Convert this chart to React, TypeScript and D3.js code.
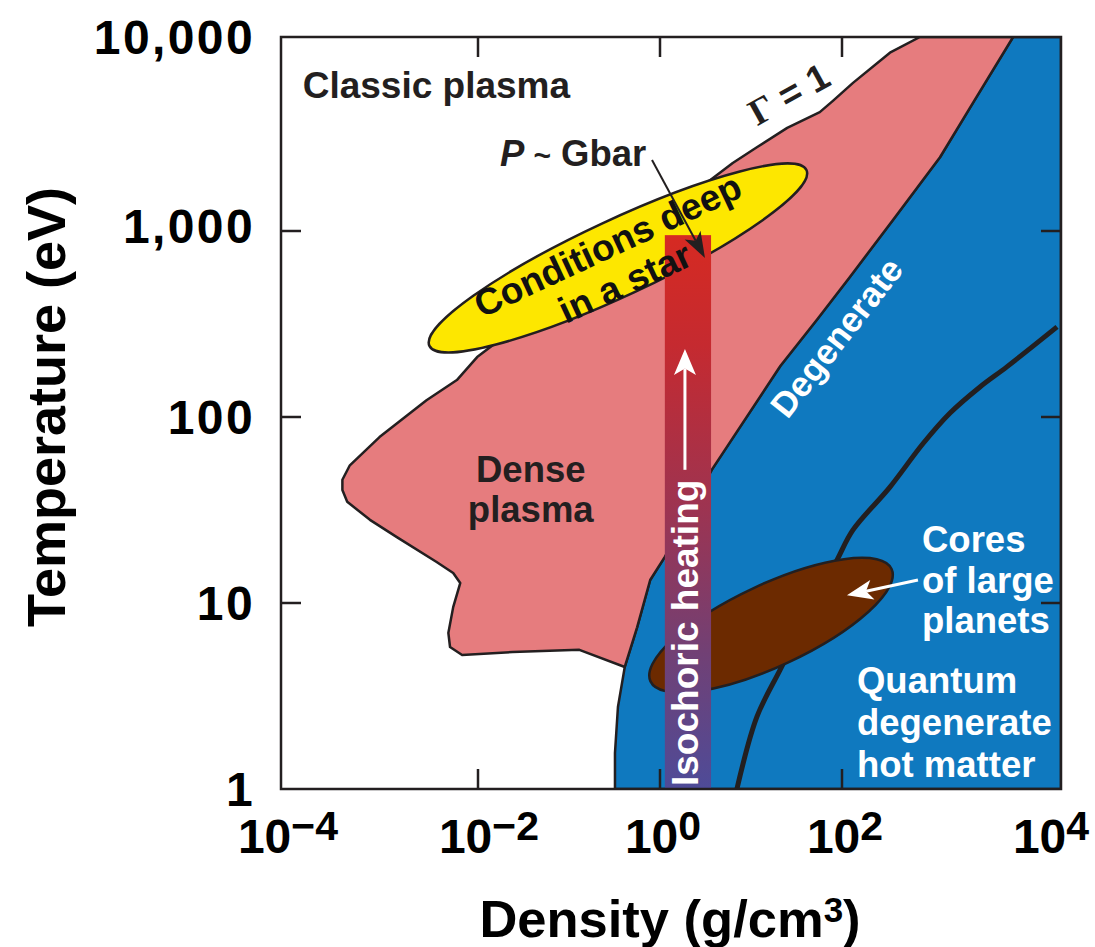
import React from 'react';
import * as d3 from 'd3';

// ---------- axes ----------
const densityTicks = [1e-4, 1e-2, 1, 1e2, 1e4];
const densityTickExp = ['\u22124', '\u22122', '0', '2', '4'];
const tempTicks = [1, 10, 100, 1000, 10000];
const tempTickLabels = ['1', '10', '100', '1,000', '10,000'];
const innerTicksX = [1e-2, 1, 1e2];
const innerTicksY = [10, 100, 1000];

// ---------- regions: [density g/cm3, temperature eV] ----------
const gammaLine = [
  [515, 10000], [274, 8300], [126, 5800], [80, 4700], [57, 4100],
  [25, 3400], [11.6, 2700], [6.3, 2240],
];
const densePlasmaLeft = [
  [0.0098, 210], [0.0061, 158], [0.003, 123], [0.001, 78], [0.0005, 55],
  [0.00042, 46], [0.00042, 40.5], [0.00047, 35], [0.0008, 28], [0.0015, 22.6],
  [0.0038, 16.6], [0.0056, 14.5], [0.0066, 12.8], [0.0056, 9.5], [0.005, 6.9],
  [0.0052, 5.8], [0.0069, 5.25], [0.024, 5.45], [0.13, 5.6],
];
const degenerateBoundary = [
  [0.32, 1], [0.32, 1.56], [0.345, 2.76], [0.41, 4.53], [0.56, 7.4],
  [0.78, 13.3], [1.13, 17.7], [3.7, 52], [21, 188], [53, 333],
  [118, 566], [292, 1140], [785, 2400], [1570, 4570], [3650, 10000],
];
const quantumLine = [
  [7.0, 1], [11.6, 2.44], [20.8, 4.36], [44, 8.9], [88, 17], [126, 24.7],
  [274, 42], [550, 72], [970, 105], [1820, 145], [3200, 186], [9200, 305],
];
const starCenter = [0.345, 716];
const planetCenter = [16.6, 7.6];
const isochoricDensity = [1.13, 3.64];
const isochoricTemp = [1, 950];
const isochoricArrowTemp = [52, 232];
const gbarArrow = [[0.817, 2320], [3.12, 716]];
const coresArrow = [[494, 13.3], [111, 11.0]];

// ---------- annotation anchors ----------
const classicPlasmaAt = [1.66e-4, 4850];
const pGbarAt = [0.0175, 2160];
const gammaLabelAt = [30.5, 4450];
const densePlasmaAt = [0.038, 45];
const degenerateAt = [109, 244];
const coresAt = [538, 18.8];
const quantumAt = [137, 3.28];

const FONT = '"Liberation Sans", Arial, Helvetica, sans-serif';
const INK = '#231f20';
const PINK = '#e67c7e';
const BLUE = '#0f79bf';
const YELLOW = '#fde700';
const BROWN = '#6c2a00';
const FS = 36.5;

function arrowHead(x1: number, y1: number, x2: number, y2: number, len: number, hw: number, notch = 0.25) {
  const dx = x2 - x1, dy = y2 - y1;
  const L = Math.hypot(dx, dy);
  const ux = dx / L, uy = dy / L;
  const px = -uy, py = ux;
  const bx = x2 - ux * len, by = y2 - uy * len;
  const nx = x2 - ux * len * (1 - notch), ny = y2 - uy * len * (1 - notch);
  const pts = [
    [x2, y2],
    [bx + px * hw, by + py * hw],
    [nx, ny],
    [bx - px * hw, by - py * hw],
  ];
  return { points: pts.map(p => p.join(',')).join(' '), bx: nx, by: ny };
}

export default function App() {
  const W = 1095, H = 947;
  const x = d3.scaleLog().domain(densityTicks).range([281, 478, 660, 842, 1061]);
  const y = d3.scaleLog().domain(tempTicks).range([789, 603, 417, 231, 37]);
  const line = d3.line<number[]>().x(d => x(d[0])).y(d => y(d[1]));
  const smooth = d3.line<number[]>().x(d => x(d[0])).y(d => y(d[1])).curve(d3.curveCatmullRom.alpha(0.5));

  const pinkPoly = [...gammaLine, ...densePlasmaLeft, ...degenerateBoundary.slice(3)];
  const bluePoly = [...degenerateBoundary, [1e4, 1e4], [1e4, 1]];

  const x0 = x(1e-4), x1 = x(1e4), yTop = y(1e4), yBot = y(1);

  const sx = x(starCenter[0]), sy = y(starCenter[1]);
  const px = x(planetCenter[0]), py = y(planetCenter[1]);

  const barX0 = x(isochoricDensity[0]), barX1 = x(isochoricDensity[1]);
  const barY0 = y(isochoricTemp[1]), barY1 = y(isochoricTemp[0]);
  const barCx = (barX0 + barX1) / 2 - 3;

  const ga = [x(gbarArrow[0][0]), y(gbarArrow[0][1]), x(gbarArrow[1][0]), y(gbarArrow[1][1])];
  const gHead = arrowHead(ga[0], ga[1], ga[2], ga[3], 26, 9);
  const ca = [x(coresArrow[0][0]), y(coresArrow[0][1]), x(coresArrow[1][0]), y(coresArrow[1][1])];
  const cHead = arrowHead(ca[0], ca[1], ca[2], ca[3], 26, 10);
  const ia = [barCx, y(isochoricArrowTemp[0]), barCx, y(isochoricArrowTemp[1])];
  const iHead = arrowHead(ia[0], ia[1], ia[2], ia[3], 26, 11);

  const xLabelDx = [7, 11, 3, 3, -10];
  const yLabelDy = [0, 0, 0, -5, 0];

  return (
    <svg width={W} height={H} style={{ position: 'absolute', left: 0, top: 0, background: '#fff' }} fontFamily={FONT}>
      <defs>
        <linearGradient id="isoGrad" x1="0" y1="0" x2="0" y2="1">
          <stop offset="0" stopColor="#d62a22" />
          <stop offset="0.2" stopColor="#c52a30" />
          <stop offset="0.5" stopColor="#9c3452" />
          <stop offset="0.75" stopColor="#724074" />
          <stop offset="1" stopColor="#4e4b98" />
        </linearGradient>
        <clipPath id="plotClip">
          <rect x={x0} y={yTop} width={x1 - x0} height={yBot - yTop} />
        </clipPath>
      </defs>
      <rect x={0} y={0} width={W} height={H} fill="#fff" />

      <g clipPath="url(#plotClip)">
        <path d={line(bluePoly) + 'Z'} fill={BLUE} stroke={INK} strokeWidth={2.5} strokeLinejoin="round" />
        <path d={line(pinkPoly) + 'Z'} fill={PINK} stroke={INK} strokeWidth={2.5} strokeLinejoin="round" />
        <path d={smooth(quantumLine) || ''} fill="none" stroke={INK} strokeWidth={5} strokeLinejoin="round" />
        <ellipse cx={px} cy={py} rx={133} ry={41} transform={`rotate(-25 ${px} ${py})`} fill={BROWN} stroke={INK} strokeWidth={2.5} />
        <ellipse cx={sx} cy={sy} rx={208} ry={38} transform={`rotate(-25 ${sx} ${sy})`} fill={YELLOW} stroke={INK} strokeWidth={2.5} />
        <rect x={barX0} y={barY0} width={barX1 - barX0} height={barY1 - barY0} fill="url(#isoGrad)" />
      </g>

      {/* annotations */}
      <text x={x(classicPlasmaAt[0])} y={y(classicPlasmaAt[1])} fontSize={FS + 0.5} fontWeight={700} fill={INK}>Classic plasma</text>
      <text x={x(pGbarAt[0])} y={y(pGbarAt[1])} fontSize={FS} fontWeight={700} fill={INK}>
        <tspan fontStyle="italic">P</tspan>
        <tspan fontSize={30} dx={9}>~</tspan>
        <tspan dx={10}>Gbar</tspan>
      </text>
      <g transform={`translate(${x(gammaLabelAt[0])},${y(gammaLabelAt[1])}) rotate(-29)`}>
        <text textAnchor="middle" fontSize={37} fontWeight={700} fill={INK}>
          <tspan fontFamily='"Liberation Serif", "Times New Roman", serif'>{'\u0393'}</tspan>
          <tspan> = 1</tspan>
        </text>
      </g>
      <g transform={`translate(${sx},${sy}) rotate(-25)`}>
        <text x={-4} y={-3} textAnchor="middle" fontSize={37} fontWeight={700} fill="#111">Conditions deep</text>
        <text x={-4} y={38} textAnchor="middle" fontSize={37} fontWeight={700} fill="#111">in a star</text>
      </g>
      <text x={x(densePlasmaAt[0])} y={y(densePlasmaAt[1])} textAnchor="middle" fontSize={FS} fontWeight={700} fill={INK}>
        <tspan x={x(densePlasmaAt[0])}>Dense</tspan>
        <tspan x={x(densePlasmaAt[0])} dy={40}>plasma</tspan>
      </text>
      <g transform={`translate(${x(degenerateAt[0])},${y(degenerateAt[1])}) rotate(-52)`}>
        <text textAnchor="middle" fontSize={35} fontWeight={700} fill="#fff">Degenerate</text>
      </g>
      <text x={x(coresAt[0])} y={y(coresAt[1])} fontSize={FS} fontWeight={700} fill="#fff">
        <tspan x={x(coresAt[0])}>Cores</tspan>
        <tspan x={x(coresAt[0])} dy={40.5}>of large</tspan>
        <tspan x={x(coresAt[0])} dy={40.5}>planets</tspan>
      </text>
      <text x={x(quantumAt[0])} y={y(quantumAt[1])} fontSize={FS} fontWeight={700} fill="#fff">
        <tspan x={x(quantumAt[0])}>Quantum</tspan>
        <tspan x={x(quantumAt[0])} dy={42}>degenerate</tspan>
        <tspan x={x(quantumAt[0])} dy={42}>hot matter</tspan>
      </text>

      {/* isochoric heating label + arrow */}
      <g transform={`translate(${barCx + 13},${barY1 - 3}) rotate(-90)`}>
        <text fontSize={37} fontWeight={700} fill="#fff">Isochoric heating</text>
      </g>
      <line x1={ia[0]} y1={ia[1]} x2={iHead.bx} y2={iHead.by} stroke="#fff" strokeWidth={3} />
      <polygon points={iHead.points} fill="#fff" />

      {/* P ~ Gbar arrow */}
      <line x1={ga[0]} y1={ga[1]} x2={gHead.bx} y2={gHead.by} stroke={INK} strokeWidth={2} />
      <polygon points={gHead.points} fill={INK} />

      {/* cores arrow */}
      <line x1={ca[0]} y1={ca[1]} x2={cHead.bx} y2={cHead.by} stroke="#fff" strokeWidth={3} />
      <polygon points={cHead.points} fill="#fff" />

      {/* frame + ticks */}
      <rect x={x0} y={yTop} width={x1 - x0} height={yBot - yTop} fill="none" stroke={INK} strokeWidth={2.5} />
      {innerTicksX.map(v => (
        <g key={'tx' + v}>
          <line x1={x(v)} x2={x(v)} y1={yTop} y2={yTop + 20} stroke={INK} strokeWidth={2.5} />
          <line x1={x(v)} x2={x(v)} y1={yBot} y2={yBot - 20} stroke={INK} strokeWidth={2.5} />
        </g>
      ))}
      {innerTicksY.map(v => (
        <g key={'ty' + v}>
          <line x1={x0} x2={x0 + 20} y1={y(v)} y2={y(v)} stroke={INK} strokeWidth={2.5} />
          <line x1={x1} x2={x1 - 20} y1={y(v)} y2={y(v)} stroke={INK} strokeWidth={2.5} />
        </g>
      ))}

      {/* tick labels */}
      {tempTicks.map((v, i) => (
        <text key={'yl' + v} x={255} y={y(v) + 17 + yLabelDy[i]} textAnchor="end" fontSize={48} fontWeight={700} letterSpacing={2.4} fill="#000">
          {tempTickLabels[i]}
        </text>
      ))}
      {densityTicks.map((v, i) => (
        <text key={'xl' + v} x={x(v) + xLabelDx[i]} y={853} textAnchor="middle" fontSize={48} fontWeight={700} fill="#000">
          10<tspan fontSize={41} dy={-13}>{densityTickExp[i]}</tspan>
        </text>
      ))}

      {/* axis titles */}
      <text x={670} y={937} textAnchor="middle" fontSize={52.5} fontWeight={700} fill="#000">
        Density (g/cm<tspan fontSize={35} dy={-15}>3</tspan><tspan dy={15}>)</tspan>
      </text>
      <g transform="translate(65,407) rotate(-90)">
        <text textAnchor="middle" fontSize={54} fontWeight={700} fill="#000">Temperature (eV)</text>
      </g>
    </svg>
  );
}
